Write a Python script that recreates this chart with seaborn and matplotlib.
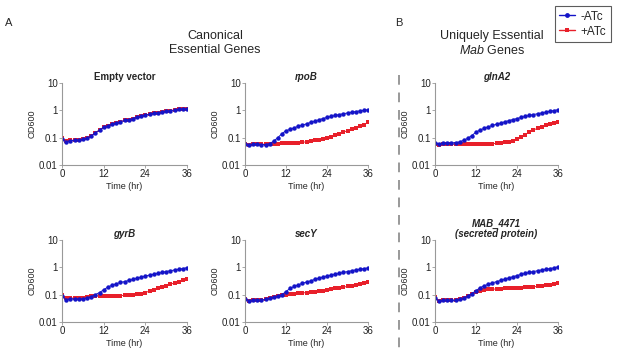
import numpy as np
import pandas as pd
import matplotlib
matplotlib.use("Agg")
import matplotlib.pyplot as plt
from matplotlib.lines import Line2D
import seaborn as sns

# sampling times (hr)
times = [0, 1.2, 2.4, 3.6, 4.8, 6, 7.2, 8.4, 9.6, 10.8, 12, 13.2, 14.4, 15.6, 16.8,
         18, 19.2, 20.4, 21.6, 22.8, 24, 25.2, 26.4, 27.6, 28.8, 30, 31.2, 32.4,
         33.6, 34.8, 36]

# OD600 readings
empty_minus = [0.087, 0.071, 0.078, 0.080, 0.082, 0.087, 0.095, 0.115, 0.15, 0.19, 0.24,
               0.275, 0.31, 0.35, 0.38, 0.43, 0.46, 0.50, 0.57, 0.62, 0.67, 0.73, 0.78,
               0.82, 0.87, 0.92, 0.97, 1.03, 1.08, 1.12, 1.15]
empty_plus = [0.097, 0.076, 0.080, 0.081, 0.082, 0.087, 0.095, 0.115, 0.15, 0.19, 0.24,
              0.275, 0.31, 0.35, 0.38, 0.43, 0.46, 0.50, 0.57, 0.62, 0.67, 0.73, 0.78,
              0.82, 0.87, 0.92, 0.97, 1.03, 1.08, 1.12, 1.15]

rpob_minus = [0.057, 0.052, 0.058, 0.058, 0.056, 0.056, 0.060, 0.075, 0.10, 0.14, 0.18,
              0.20, 0.23, 0.26, 0.29, 0.32, 0.36, 0.40, 0.45, 0.50, 0.55, 0.60, 0.65,
              0.70, 0.75, 0.80, 0.85, 0.90, 0.95, 1.00, 1.05]
rpob_plus = [0.058, 0.055, 0.058, 0.057, 0.057, 0.058, 0.058, 0.060, 0.060, 0.062, 0.063,
             0.064, 0.065, 0.066, 0.068, 0.070, 0.075, 0.080, 0.085, 0.090, 0.10, 0.11,
             0.125, 0.14, 0.16, 0.18, 0.20, 0.23, 0.26, 0.30, 0.36]

glna2_minus = [0.065, 0.060, 0.062, 0.062, 0.064, 0.066, 0.070, 0.080, 0.095, 0.12, 0.16,
               0.19, 0.22, 0.25, 0.28, 0.31, 0.34, 0.38, 0.42, 0.46, 0.50, 0.55, 0.60,
               0.65, 0.70, 0.75, 0.80, 0.86, 0.92, 0.98, 1.05]
glna2_plus = [0.058, 0.053, 0.057, 0.057, 0.057, 0.058, 0.058, 0.058, 0.058, 0.058, 0.058,
              0.058, 0.058, 0.059, 0.060, 0.062, 0.065, 0.068, 0.072, 0.078, 0.090, 0.11,
              0.13, 0.16, 0.19, 0.22, 0.25, 0.28, 0.31, 0.34, 0.37]

gyrb_minus = [0.090, 0.065, 0.070, 0.070, 0.068, 0.070, 0.075, 0.085, 0.10, 0.12, 0.15,
              0.19, 0.22, 0.25, 0.28, 0.30, 0.33, 0.36, 0.40, 0.44, 0.48, 0.52, 0.56,
              0.60, 0.65, 0.70, 0.75, 0.80, 0.85, 0.90, 0.97]
gyrb_plus = [0.095, 0.075, 0.075, 0.075, 0.075, 0.078, 0.082, 0.088, 0.090, 0.090, 0.090,
             0.088, 0.088, 0.090, 0.092, 0.095, 0.098, 0.10, 0.105, 0.11, 0.12, 0.135,
             0.15, 0.17, 0.19, 0.21, 0.24, 0.27, 0.30, 0.33, 0.38]

secy_minus = [0.070, 0.060, 0.065, 0.065, 0.062, 0.068, 0.075, 0.082, 0.090, 0.10, 0.13,
              0.17, 0.20, 0.23, 0.26, 0.29, 0.32, 0.36, 0.40, 0.44, 0.48, 0.52, 0.56,
              0.60, 0.65, 0.70, 0.75, 0.80, 0.85, 0.90, 0.95]
secy_plus = [0.070, 0.060, 0.065, 0.065, 0.062, 0.068, 0.075, 0.082, 0.090, 0.095, 0.10,
             0.105, 0.11, 0.112, 0.115, 0.12, 0.125, 0.13, 0.135, 0.14, 0.15, 0.16, 0.17,
             0.18, 0.19, 0.20, 0.21, 0.22, 0.24, 0.26, 0.29]

mab_minus = [0.075, 0.058, 0.062, 0.062, 0.062, 0.062, 0.068, 0.075, 0.090, 0.11, 0.14,
             0.18, 0.21, 0.24, 0.27, 0.30, 0.33, 0.37, 0.41, 0.45, 0.50, 0.55, 0.60,
             0.65, 0.70, 0.75, 0.80, 0.85, 0.90, 0.95, 1.05]
mab_plus = [0.080, 0.060, 0.063, 0.063, 0.062, 0.062, 0.068, 0.075, 0.090, 0.11, 0.13,
            0.14, 0.15, 0.155, 0.16, 0.16, 0.165, 0.17, 0.17, 0.175, 0.18, 0.18, 0.185,
            0.19, 0.195, 0.20, 0.21, 0.22, 0.23, 0.24, 0.26]

panels = [
    ("Empty vector", False, empty_minus, empty_plus),
    ("rpoB", True, rpob_minus, rpob_plus),
    ("glnA2", True, glna2_minus, glna2_plus),
    ("gyrB", True, gyrb_minus, gyrb_plus),
    ("secY", True, secy_minus, secy_plus),
    ("MAB_4471\n(secreted protein)", True, mab_minus, mab_plus),
]

blue = "#1414c8"
red = "#e8202a"

sns.set_style("ticks")
plt.rcParams["font.family"] = ["Liberation Sans", "DejaVu Sans"]
plt.rcParams["mathtext.fontset"] = "custom"
plt.rcParams["mathtext.rm"] = "Liberation Sans"
plt.rcParams["mathtext.it"] = "Liberation Sans:italic"

W, H = 617, 351
fig = plt.figure(figsize=(W / 100, H / 100), dpi=100)

col_x = [(62, 187), (245, 368), (435, 558)]
row_y = [(83, 165), (240, 322)]

for i, (title, italic, minus, plus) in enumerate(panels):
    r, c = divmod(i, 3)
    x0, x1 = col_x[c]
    y0, y1 = row_y[r]
    ax = fig.add_axes([x0 / W, 1 - y1 / H, (x1 - x0) / W, (y1 - y0) / H])

    df = pd.DataFrame({
        "time": times * 2,
        "od": plus + minus,
        "condition": ["+ATc"] * len(times) + ["-ATc"] * len(times),
    })
    sns.lineplot(data=df, x="time", y="od", hue="condition", style="condition",
                 hue_order=["+ATc", "-ATc"], style_order=["+ATc", "-ATc"],
                 palette={"+ATc": red, "-ATc": blue},
                 markers={"+ATc": "s", "-ATc": "o"}, dashes=False,
                 markersize=3.2, markeredgewidth=0, linewidth=0.7,
                 legend=False, ax=ax)

    ax.set_yscale("log")
    ax.set_ylim(0.01, 10)
    ax.set_xlim(0, 36)
    ax.set_yticks([0.01, 0.1, 1, 10])
    ax.set_yticklabels(["0.01", "0.1", "1", "10"])
    ax.minorticks_off()
    ax.set_xticks([0, 12, 24, 36])
    ax.tick_params(labelsize=7, length=2, width=0.6, pad=1, colors="#999999",
                   labelcolor="#222222")
    for s in ["left", "bottom"]:
        ax.spines[s].set_color("#999999")
        ax.spines[s].set_linewidth(0.8)
    sns.despine(ax=ax)
    ax.set_xlabel("Time (hr)", fontsize=6.5, labelpad=2)
    ax.set_ylabel("OD600", fontsize=6.5, labelpad=2)
    ax.set_title(title, fontsize=7, fontweight="bold",
                 fontstyle="italic" if italic else "normal", pad=2,
                 linespacing=1.0)

# section headings
fig.text(5 / W, 1 - 23 / H, "A", fontsize=8, va="center", ha="left")
fig.text(399 / W, 1 - 23 / H, "B", fontsize=8, va="center", ha="center")
fig.text(215 / W, 1 - 43 / H, "Canonical\nEssential Genes", fontsize=9,
         ha="center", va="center", linespacing=1.15)
fig.text(492 / W, 1 - 36 / H, "Uniquely Essential", fontsize=9,
         ha="center", va="center")
fig.text(492 / W, 1 - 51 / H, r"$\it{Mab}$ Genes", fontsize=9,
         ha="center", va="center")

# dashed separator
fig.add_artist(Line2D([399 / W, 399 / W], [1 - 75 / H, 0], color="#999999",
                      linewidth=1.4, linestyle=(0, (5, 4))))

handles = [
    Line2D([], [], color=blue, marker="o", markersize=3.5, markeredgewidth=0, linewidth=1),
    Line2D([], [], color=red, marker="s", markersize=3.5, markeredgewidth=0, linewidth=1),
]
leg = fig.legend(handles, ["-ATc", "+ATc"], loc="upper right",
                 bbox_to_anchor=(1.0, 1.0), fontsize=8.5, frameon=True,
                 fancybox=False, handlelength=1.3, handletextpad=0.5,
                 borderpad=0.4, labelspacing=0.25)
leg.get_frame().set_edgecolor("#333333")
leg.get_frame().set_linewidth(0.8)

fig.savefig("out.png", dpi=100)
